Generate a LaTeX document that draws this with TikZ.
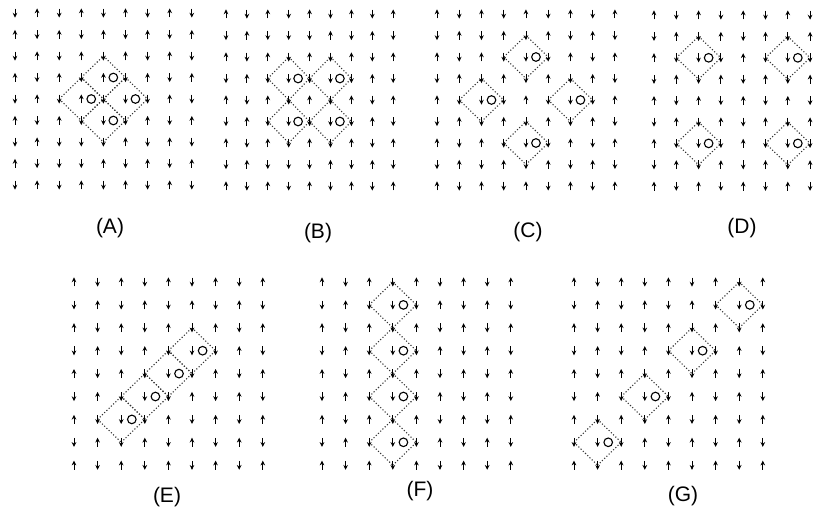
\documentclass[tikz,border=0pt]{standalone}
\usepackage{fontspec}
\setmainfont{Liberation Sans}
\usetikzlibrary{arrows.meta}

\tikzset{
  spin/.style={line width=0.45pt, -{Stealth[length=2.4pt,width=2.3pt]}},
  pics/spinu/.style={code={\draw[spin] (0pt,-2.2pt) -- (0pt,2.3pt);}},
  pics/spind/.style={code={\draw[spin] (0pt,2.2pt) -- (0pt,-2.3pt);}},
  plaq/.style={black!80, line width=0.55pt, dash pattern=on 0.55pt off 1pt},
  hole/.style={line width=0.55pt},
  lab/.style={font=\fontsize{10.5}{12}\selectfont},
}

% one row of letters per lattice row: u = up, d = down
\newcommand{\spinlattice}[1]{%
  \foreach \row [count=\j from 0] in {#1}
    \foreach \s [count=\i from 0] in \row
      \pic at (\i,\j) {spin\s};}

% dotted plaquette round site (#1,#2); every edge drawn left to right
% so that shared edges of touching plaquettes keep the same dots
\newcommand{\plaquette}[2]{%
  \draw[plaq] (#1-1,#2) -- (#1,#2-1)  (#1-1,#2) -- (#1,#2+1)
              (#1,#2-1) -- (#1+1,#2)  (#1,#2+1) -- (#1+1,#2);}
\newcommand{\hole}[2]{\draw[hole] (#1+0.45,#2) circle (2.15pt);}

\begin{document}
\begin{tikzpicture}[x=0.5pt, y=-0.5pt]
  \useasboundingbox (0,0) rectangle (827,516);

  % (A)
  \begin{scope}[shift={(15,13)}, x=11.05pt, y=-10.75pt]
    \foreach \cx/\cy in {4/3,3/4,5/4,4/5} \plaquette{\cx}{\cy};
    \spinlattice{{d,u,d,u,d,u,d,u,d},{u,d,u,d,u,d,u,d,u},{d,u,d,u,d,u,d,u,d},
      {u,d,u,d,u,d,u,d,u},{d,u,d,u,d,d,d,u,d},{u,d,u,d,d,d,u,d,u},
      {d,u,d,d,d,u,d,u,d},{u,d,d,d,u,d,u,d,u},{d,u,d,u,d,u,d,u,d}}
    \foreach \cx/\cy in {4/3,3/4,5/4,4/5} \hole{\cx}{\cy};
  \end{scope}

  % (B)
  \begin{scope}[shift={(226,14)}, x=10.45pt, y=-10.75pt]
    \foreach \cx/\cy in {3/3,5/3,3/5,5/5} \plaquette{\cx}{\cy};
    \spinlattice{{u,d,u,d,u,d,u,d,u},{d,u,d,d,d,u,d,u,d},{u,d,u,d,u,d,u,d,u},
      {d,u,d,d,d,d,d,u,d},{u,d,u,d,u,d,u,d,u},{d,u,d,d,d,d,d,u,d},
      {u,d,u,d,u,d,u,d,u},{d,u,d,d,d,u,d,u,d},{u,d,u,d,u,d,u,d,u}}
    \foreach \cx/\cy in {3/3,5/3,3/5,5/5} \hole{\cx}{\cy};
  \end{scope}

  % (C)
  \begin{scope}[shift={(437,14)}, x=11.12pt, y=-10.75pt]
    \foreach \cx/\cy in {4/2,2/4,6/4,4/6} \plaquette{\cx}{\cy};
    \spinlattice{{u,d,u,d,u,d,u,d,u},{d,u,d,u,d,u,d,u,d},{u,d,u,d,d,d,u,d,u},
      {d,u,d,u,d,u,d,u,d},{u,d,d,d,u,d,d,d,u},{d,u,d,u,d,u,d,u,d},
      {u,d,u,d,d,d,u,d,u},{d,u,d,u,d,u,d,u,d},{u,d,u,d,u,d,u,d,u}}
    \foreach \cx/\cy in {4/2,2/4,6/4,4/6} \hole{\cx}{\cy};
  \end{scope}

  % (D)
  \begin{scope}[shift={(654,15)}, x=11.15pt, y=-10.7pt]
    \foreach \cx/\cy in {2/2,6/2,2/6,6/6} \plaquette{\cx}{\cy};
    \spinlattice{{u,d,u,d,u,d,u,d},{d,u,d,u,d,u,d,u},{u,d,d,d,u,d,d,d},
      {d,u,d,u,d,u,d,u},{u,d,u,d,u,d,u,d},{d,u,d,u,d,u,d,u},
      {u,d,d,d,u,d,d,d},{d,u,d,u,d,u,d,u},{u,d,u,d,u,d,u,d}}
    \foreach \cx/\cy in {2/2,6/2,2/6,6/6} \hole{\cx}{\cy};
  \end{scope}

  % (E)
  \begin{scope}[shift={(74,282)}, x=11.8pt, y=-11.45pt]
    \foreach \cx/\cy in {5/3,4/4,3/5,2/6} \plaquette{\cx}{\cy};
    \spinlattice{{u,d,u,d,u,d,u,d,u},{d,u,d,u,d,u,d,u,d},{u,d,u,d,u,d,u,d,u},
      {d,u,d,u,d,d,d,u,d},{u,d,u,d,d,d,u,d,u},{d,u,d,d,d,u,d,u,d},
      {u,d,d,d,u,d,u,d,u},{d,u,d,u,d,u,d,u,d},{u,d,u,d,u,d,u,d,u}}
    \foreach \cx/\cy in {5/3,4/4,3/5,2/6} \hole{\cx}{\cy};
  \end{scope}

  % (F)
  \begin{scope}[shift={(322,282)}, x=11.8pt, y=-11.45pt]
    \foreach \cy in {1,3,5,7} \plaquette{3}{\cy};
    \spinlattice{{u,d,u,d,u,d,u,d,u},{d,u,d,d,d,u,d,u,d},{u,d,u,d,u,d,u,d,u},
      {d,u,d,d,d,u,d,u,d},{u,d,u,d,u,d,u,d,u},{d,u,d,d,d,u,d,u,d},
      {u,d,u,d,u,d,u,d,u},{d,u,d,d,d,u,d,u,d},{u,d,u,d,u,d,u,d,u}}
    \foreach \cy in {1,3,5,7} \hole{3}{\cy};
  \end{scope}

  % (G)
  \begin{scope}[shift={(574,282)}, x=11.8pt, y=-11.45pt]
    \foreach \cx/\cy in {7/1,5/3,3/5,1/7} \plaquette{\cx}{\cy};
    \spinlattice{{u,d,u,d,u,d,u,d,u},{d,u,d,u,d,u,d,d,d},{u,d,u,d,u,d,u,d,u},
      {d,u,d,u,d,d,d,u,d},{u,d,u,d,u,d,u,d,u},{d,u,d,d,d,u,d,u,d},
      {u,d,u,d,u,d,u,d,u},{d,d,d,u,d,u,d,u,d},{u,d,u,d,u,d,u,d,u}}
    \foreach \cx/\cy in {7/1,5/3,3/5,1/7} \hole{\cx}{\cy};
  \end{scope}

  % Panel labels
  \node[lab] (labA) at (110,228) {(A)};
  \node[lab] (labB) at (318,233) {(B)};
  \node[lab] (labC) at (528,232) {(C)};
  \node[lab] (labD) at (742,228) {(D)};
  \node[lab] (labE) at (167,497) {(E)};
  \node[lab] (labF) at (420,491) {(F)};
  \node[lab] (labG) at (683,496) {(G)};
\end{tikzpicture}
\end{document}
